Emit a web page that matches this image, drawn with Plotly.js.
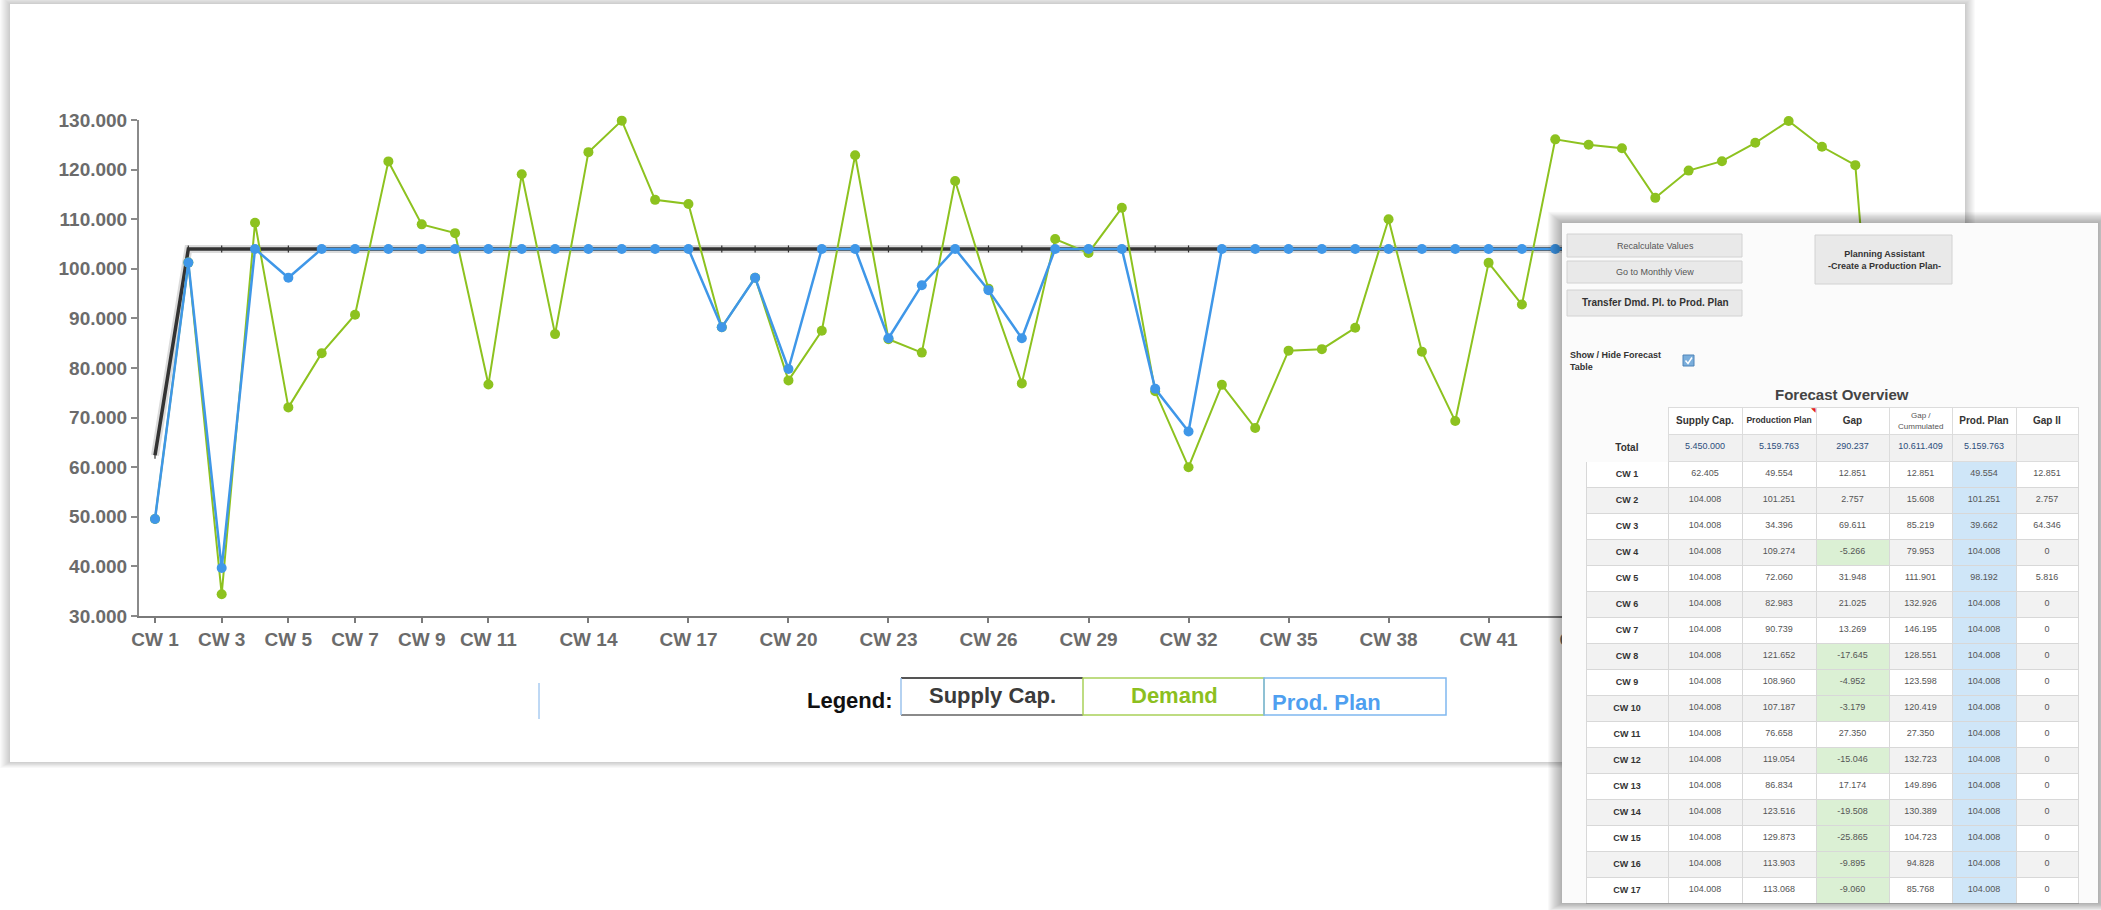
<!DOCTYPE html>
<html>
<head>
<meta charset="utf-8">
<script src="https://cdn.plot.ly/plotly-3.0.1.min.js"></script>
<style>
html,body{margin:0;padding:0;background:#ffffff;}
#chart{width:2101px;height:910px;}
</style>
</head>
<body>
<div id="chart"></div>
<script>
// ---------------- DATA ----------------
const weeks = ["CW 1","CW 2","CW 3","CW 4","CW 5","CW 6","CW 7","CW 8","CW 9","CW 10",
  "CW 11","CW 12","CW 13","CW 14","CW 15","CW 16","CW 17","CW 18","CW 19","CW 20",
  "CW 21","CW 22","CW 23","CW 24","CW 25","CW 26","CW 27","CW 28","CW 29","CW 30",
  "CW 31","CW 32","CW 33","CW 34","CW 35","CW 36","CW 37","CW 38","CW 39","CW 40",
  "CW 41","CW 42","CW 43","CW 44","CW 45","CW 46","CW 47","CW 48","CW 49","CW 50",
  "CW 51","CW 52","CW 53"];

const supplyCap = [62405,104008,104008,104008,104008,104008,104008,104008,104008,104008,
  104008,104008,104008,104008,104008,104008,104008,104008,104008,104008,
  104008,104008,104008,104008,104008,104008,104008,104008,104008,104008,
  104008,104008,104008,104008,104008,104008,104008,104008,104008,104008,
  104008,104008,104008,104008,104008,104008,104008,104008,104008,104008,
  104008,104008,83186];

const demand = [49554,101251,34396,109274,72060,82983,90739,121652,108960,107187,
  76658,119054,86834,123516,129873,113903,113068,88200,98200,77500,
  87500,122900,85800,83100,117700,96000,76900,106000,103200,112300,
  75300,60000,76600,67900,83500,83800,88100,110000,83300,69300,
  101200,92800,126100,125000,124300,114300,119800,121700,125400,129800,
  124600,120900,40400];

const prodPlan = [49554,101251,39662,104008,98192,104008,104008,104008,104008,104008,
  104008,104008,104008,104008,104008,104008,104008,88200,98200,79800,
  104008,104008,86000,96700,104008,95700,86000,104008,104008,104008,
  75800,67200,104008,104008,104008,104008,104008,104008,104008,104008,
  104008,104008,104008,104008,104008,104008,104008,104008,104008,104008,
  104008,104008,40400];

// labelled ticks (later labels lie under the overlay panel)
const tickLabels = ["CW 1","CW 3","CW 5","CW 7","CW 9","CW 11","CW 14","CW 17","CW 20",
  "CW 23","CW 26","CW 29","CW 32","CW 35","CW 38","CW 41","CW 44"];
const yTicks = [30000,40000,50000,60000,70000,80000,90000,100000,110000,120000,130000];

// forecast table (CW 1 - CW 17 visible)
const tableHeaders = ["", "Supply Cap.", "Production Plan", "Gap", "Gap / Cummulated", "Prod. Plan", "Gap II"];
const tableTotals = ["Total", "5.450.000", "5.159.763", "290.237", "10.611.409", "5.159.763", ""];
const gap = [12851,2757,69611,-5266,31948,21025,13269,-17645,-4952,-3179,27350,-15046,17174,-19508,-25865,-9895,-9060];
const gapCum = [12851,15608,85219,79953,111901,132926,146195,128551,123598,120419,27350,132723,149896,130389,104723,94828,85768];
const gapII = [12851,2757,64346,0,5816,0,0,0,0,0,0,0,0,0,0,0,0];
const tableRows = 17;

// ---------------- HELPERS ----------------
const W = 2101, H = 910;
const px = x => x / W;
const py = y => 1 - y / H;
const FONT = "Liberation Sans, Arial, sans-serif";
const fmt = n => (n < 0 ? "-" : "") + Math.abs(Math.round(n)).toString().replace(/\B(?=(\d{3})+(?!\d))/g, ".");
const nb = s => s.replace(/ /g, "\u00a0");

function rect(x0, y0, x1, y1, fill, line, layer) {
  return {type: "rect", xref: "paper", yref: "paper", x0: px(x0), x1: px(x1), y0: py(y1), y1: py(y0),
    fillcolor: fill, line: line || {width: 0}, layer: layer || "above"};
}
function seg(x0, y0, x1, y1, color, width, layer) {
  return {type: "line", xref: "paper", yref: "paper", x0: px(x0), x1: px(x1), y0: py(y0), y1: py(y1),
    line: {color: color, width: width}, layer: layer || "above"};
}
function shadow(x0, y0, x1, y1, spread, alpha, layer) {
  const out = [];
  for (let i = spread; i >= 1; i--) {
    out.push(rect(x0 - i, y0 - i * 0.8, x1 + i, y1 + i * 0.6, "rgba(0,0,0," + alpha + ")", {width: 0}, layer));
  }
  return out;
}
function ann(text, x, y, size, color, xanchor, extra) {
  return Object.assign({text: text, xref: "paper", yref: "paper", x: px(x), y: py(y), showarrow: false,
    xanchor: xanchor || "center", yanchor: "middle",
    font: {family: FONT, size: size, color: color}}, extra || {});
}

// ---------------- TRACES ----------------
const traces = [
  {type: "scatter", mode: "lines", x: weeks, y: supplyCap, hoverinfo: "skip",
   line: {color: "rgba(0,0,0,0.14)", width: 8}, cliponaxis: false},
  {type: "scatter", mode: "lines+markers", name: "Supply Cap.", x: weeks, y: supplyCap,
   line: {color: "#333333", width: 3.5},
   marker: {symbol: "line-ns-open", size: 5, line: {color: "#444444", width: 1.2}}, cliponaxis: false},
  {type: "scatter", mode: "lines+markers", name: "Demand", x: weeks, y: demand,
   line: {color: "#8dc21f", width: 2}, marker: {color: "#8dc21f", size: 10}, cliponaxis: false},
  {type: "scatter", mode: "lines+markers", name: "Prod. Plan", x: weeks, y: prodPlan,
   line: {color: "#3f97e8", width: 2.5}, marker: {color: "#3f97e8", size: 10}, cliponaxis: false}
];

const panelBg = "#fbfbfb";

// panel background of the overlay (an empty table cell, so it sits above the chart traces)
traces.push({
  type: "table",
  domain: {x: [px(1562), px(2098)], y: [0, py(223)]},
  columnwidth: [1],
  header: {values: [""], height: 20, fill: {color: panelBg}, line: {color: panelBg, width: 0}},
  cells: {values: [[""]], height: 660, fill: {color: panelBg}, line: {color: panelBg, width: 0}}
});

// forecast table
const TABLE_TOP = 407;
const stripe = r => (r % 2 === 0 ? "#ffffff" : "#f2f2f2");
const rowIdx = Array.from({length: tableRows}, (_, i) => i);
const cellCols = [
  weeks.slice(0, tableRows).map(w => "<b>" + nb(w) + "</b>"),
  supplyCap.slice(0, tableRows).map(fmt),
  demand.slice(0, tableRows).map(fmt),
  gap.map(fmt),
  gapCum.map(fmt),
  prodPlan.slice(0, tableRows).map(fmt),
  gapII.map(fmt)
];
const cellFill = [
  rowIdx.map(stripe), rowIdx.map(stripe), rowIdx.map(stripe),
  rowIdx.map(r => (gap[r] < 0 ? "#dbf0d4" : stripe(r))),
  rowIdx.map(stripe),
  rowIdx.map(() => "#cfe6f8"),
  rowIdx.map(stripe)
];
// two-line header label of column 4 is written as annotations (see below)
const headerVals = tableHeaders.map((h, i) => [
  (i === 0 || i === 4) ? "" : "<b>" + nb(h) + "</b>",
  i === 0 ? "<b>" + tableTotals[i] + "</b>" : tableTotals[i]
]);
const headerFill = tableHeaders.map((h, i) => (i === 0 ? [panelBg, panelBg] : ["#ffffff", "#f1f1f1"]));
const headerLine = tableHeaders.map((h, i) => (i === 0 ? [panelBg, panelBg] : ["#dcdcdc", "#dcdcdc"]));
const headerSize = [[10, 10], [10, 9], [8.5, 9], [10, 9], [8, 9], [10, 9], [10, 9]];
const headerColor = tableHeaders.map((h, i) => (i === 0 ? ["#333", "#333"] : ["#333", "#2c4d7c"]));

traces.push({
  type: "table",
  domain: {x: [px(1586), px(2078)], y: [0, py(TABLE_TOP)]},
  columnwidth: [82, 74, 74, 73, 63, 64, 62],
  header: {
    values: headerVals, height: 22.5, align: "center",
    fill: {color: headerFill}, line: {color: headerLine, width: 1},
    font: {family: FONT, size: headerSize, color: headerColor}
  },
  cells: {
    values: cellCols, height: 26, align: "center",
    fill: {color: cellFill}, line: {color: "#d8d8d8", width: 1},
    font: {family: FONT, size: [9, 9, 9, 9, 9, 9, 9], color: ["#333", "#555", "#555", "#555", "#555", "#555", "#555"]}
  }
});

// ---------------- SHAPES ----------------
let shapes = [];
// chart panel
shapes = shapes.concat(shadow(10, 4, 1965, 762, 10, 0.02, "below"));
shapes.push(rect(10, 4, 1965, 762, "#ffffff", {width: 0}, "below"));
// legend boxes
shapes.push(rect(901, 678, 1083, 715, "#ffffff", {width: 0}, "above"));
shapes.push(seg(901, 678, 1083, 678, "#555555", 2));
shapes.push(seg(901, 715, 1083, 715, "#8a8a8a", 2));
shapes.push(seg(901, 678, 901, 715, "#9cc3ec", 1.5));
shapes.push(rect(1083, 678, 1264, 715, "rgba(0,0,0,0)", {color: "#a9d15a", width: 1.5}, "above"));
shapes.push(rect(1264, 678, 1446, 715, "rgba(0,0,0,0)", {color: "#80b8f0", width: 1.5}, "above"));
shapes.push(seg(539, 683, 539, 719, "#7fb2ea", 1));
// overlay panel shadow (outside the panel only)
const sh = [];
for (let i = 14; i >= 1; i--) {
  const a = "rgba(0,0,0,0.022)";
  sh.push(rect(1562 - i, 223 - i * 0.8, 1562, 903 + i * 0.6, a));
  sh.push(rect(1562, 223 - i * 0.8, 2098, 223, a));
  sh.push(rect(1562, 903, 2098, 903 + i * 0.6, a));
  sh.push(rect(2098, 223 - i * 0.8, 2098 + Math.min(i, 3), 903 + i * 0.6, a));
}
shapes = shapes.concat(sh);
// buttons
const btnLine = {color: "#d2d2d2", width: 1};
shapes.push(rect(1567, 234, 1742, 257, "#e9e9e9", btnLine));
shapes.push(rect(1567, 261, 1742, 283, "#e9e9e9", btnLine));
shapes.push(rect(1567, 290, 1742, 316, "#e9e9e9", btnLine));
shapes.push(rect(1815, 235, 1952, 284, "#e9e9e9", btnLine));
// checkbox
shapes.push(rect(1683, 355, 1694, 366, "#7aaedc", {color: "#4f84b8", width: 1}));
shapes.push({type: "path", xref: "paper", yref: "paper", layer: "above",
  path: "M " + px(1685.5) + " " + py(360.5) + " L " + px(1688) + " " + py(363.5) + " L " + px(1692) + " " + py(357.5),
  line: {color: "#ffffff", width: 1.5}});

// ---------------- ANNOTATIONS ----------------
const annotations = [
  ann("<b>Legend:</b>", 895, 700, 22, "#111111", "right"),
  ann("<b>Supply Cap.</b>", 992, 695, 22, "#3b3b3b"),
  ann("<b>Demand</b>", 1174, 695, 22, "#8cbf1f"),
  ann("<b>Prod. Plan</b>", 1270, 702, 22, "#4f9ff0", "left"),
  ann("Recalculate Values", 1655, 246, 9, "#555555"),
  ann("Go to Monthly View", 1655, 272, 9, "#555555"),
  ann("<b>Transfer Dmd. Pl. to Prod. Plan</b>", 1655, 303, 10, "#333333"),
  ann("<b>Planning Assistant</b><br><b>-Create a Production Plan-</b>", 1884, 260, 9, "#333333"),
  ann("<b>Show / Hide Forecast</b><br><b>Table</b>", 1568, 361, 9, "#333333", "left", {align: "left"}),
  ann("<b>Forecast Overview</b>", 1842, 394, 15, "#444444"),
  ann("Gap /", 1920.5, TABLE_TOP + 9, 8, "#555555"),
  ann("Cummulated", 1920.5, TABLE_TOP + 19.5, 8, "#555555"),
  ann("◥", 1813, TABLE_TOP + 3, 6, "#e02020")
];

// ---------------- LAYOUT ----------------
const layout = {
  width: W, height: H,
  margin: {l: 0, r: 0, t: 0, b: 0},
  paper_bgcolor: "#ffffff",
  plot_bgcolor: "rgba(0,0,0,0)",
  showlegend: false,
  separators: ",.",
  xaxis: {
    type: "category", domain: [px(139), px(1906)], range: [-0.48, 52.52],
    tickmode: "array", tickvals: tickLabels, ticktext: tickLabels,
    showline: true, linecolor: "#7a7a7a", linewidth: 2,
    ticks: "outside", ticklen: 5, tickwidth: 2, tickcolor: "#7a7a7a",
    tickfont: {family: FONT, size: 19, color: "#6b6b6b", weight: "bold"},
    showgrid: false, zeroline: false, fixedrange: true
  },
  yaxis: {
    domain: [py(616), py(120)], range: [30000, 130000],
    tickmode: "array", tickvals: yTicks, tickformat: ",d",
    showline: true, linecolor: "#8a8a8a", linewidth: 2,
    ticks: "outside", ticklen: 6, tickwidth: 2, tickcolor: "#8a8a8a",
    tickfont: {family: FONT, size: 19, color: "#6b6b6b", weight: "bold"},
    showgrid: false, zeroline: false, fixedrange: true
  },
  shapes: shapes,
  annotations: annotations
};

Plotly.newPlot("chart", traces, layout, {displayModeBar: false, staticPlot: true});
</script>
</body>
</html>
